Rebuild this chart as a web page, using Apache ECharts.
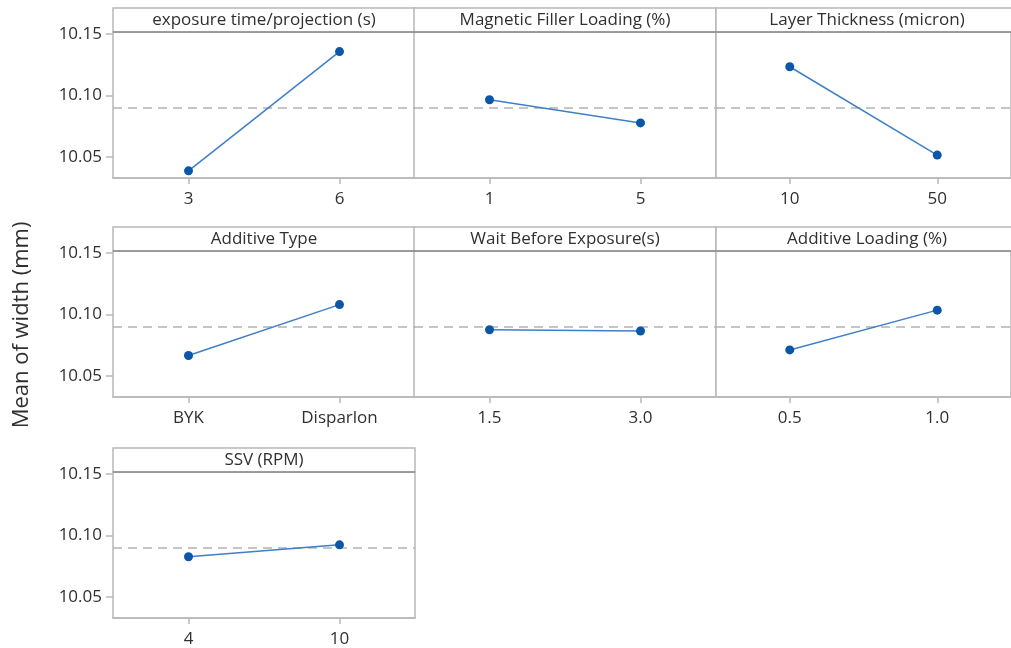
<!DOCTYPE html>
<html>
<head>
<meta charset="utf-8">
<script src="https://cdn.jsdelivr.net/npm/echarts@6/dist/echarts.min.js"></script>
<style>
  html, body { margin: 0; padding: 0; background: #fff; }
  #chart { width: 1011px; height: 648px; }
</style>
</head>
<body>
<div id="chart"></div>
<script>
// Main effects plot: mean of width (mm) for each factor level
const factorNames = [
  'exposure time/projection (s)', 'Magnetic Filler Loading (%)', 'Layer Thickness (micron)',
  'Additive Type', 'Wait Before Exposure(s)', 'Additive Loading (%)',
  'SSV (RPM)'
];
const factorLevels = [
  ['3', '6'], ['1', '5'], ['10', '50'],
  ['BYK', 'Disparlon'], ['1.5', '3.0'], ['0.5', '1.0'],
  ['4', '10']
];
const levelMeans = [
  [10.0388, 10.1356], [10.0965, 10.0777], [10.1233, 10.0516],
  [10.0667, 10.1080], [10.0876, 10.0866], [10.0712, 10.1035],
  [10.0827, 10.0924]
];
const grandMean = 10.0874;
const yTickValues = [10.05, 10.10, 10.15];
const yRange = [10.033, 10.1515];
const yAxisTitle = 'Mean of width (mm)';

// panel layout
const colLeft = [113, 414, 716];
const panelWidth = 302;
const rowTop = [32, 251, 472];
const plotHeight = 146;
const stripHeight = 24;
const FONT = '"Open Sans", "Noto Sans", sans-serif';
const borderColor = '#b8b8b8';
const stripLineColor = '#8e8e8e';
const textColor = '#303030';

const grids = [], xAxes = [], yAxes = [], series = [], graphics = [];

factorNames.forEach((name, i) => {
  const r = Math.floor(i / 3), c = i % 3;
  const left = colLeft[c], top = rowTop[r];
  grids.push({
    left: left, top: top, width: panelWidth, height: plotHeight,
    show: true, borderColor: borderColor, borderWidth: 1.5, backgroundColor: '#fff'
  });
  xAxes.push({
    type: 'category', gridIndex: i, data: factorLevels[i], boundaryGap: true,
    axisLine: { show: true, lineStyle: { color: borderColor, width: 1.5 } },
    axisTick: { show: true, alignWithLabel: true, length: 6, lineStyle: { color: borderColor, width: 1.5 } },
    axisLabel: { color: textColor, fontFamily: FONT, fontSize: 17, margin: 13 },
    splitLine: { show: false }
  });
  const showY = c === 0;
  yAxes.push({
    type: 'value', gridIndex: i, min: yRange[0], max: yRange[1], scale: true,
    axisLine: { show: false },
    axisTick: { show: showY, length: 7, customValues: yTickValues, lineStyle: { color: borderColor, width: 1.5 } },
    axisLabel: {
      show: showY, customValues: yTickValues, color: textColor, fontFamily: FONT, fontSize: 17, margin: 11,
      formatter: v => v.toFixed(2)
    },
    splitLine: { show: false }
  });
  series.push({
    type: 'line', xAxisIndex: i, yAxisIndex: i, data: levelMeans[i],
    symbol: 'circle', symbolSize: 9,
    lineStyle: { color: '#3f7fc8', width: 1.5 },
    itemStyle: { color: '#0b56a6' },
    z: 5,
    markLine: {
      silent: true, symbol: 'none', animation: false,
      label: { show: false },
      lineStyle: { color: '#b3b3b3', type: [9, 6], width: 1.6 },
      data: [{ yAxis: grandMean }]
    }
  });
  // header strip with factor name
  graphics.push({
    type: 'rect', z: 10,
    shape: { x: left, y: top - stripHeight, width: panelWidth, height: stripHeight },
    style: { fill: '#fff', stroke: borderColor, lineWidth: 1.5 }
  });
  graphics.push({
    type: 'line', z: 11,
    shape: { x1: left, y1: top, x2: left + panelWidth, y2: top },
    style: { stroke: stripLineColor, lineWidth: 1.5 }
  });
  graphics.push({
    type: 'text', z: 12,
    x: left + panelWidth / 2, y: top - stripHeight / 2,
    style: {
      text: name, fill: textColor, font: '17px ' + FONT,
      align: 'center', verticalAlign: 'middle'
    }
  });
});

graphics.push({
  type: 'text', z: 12, x: 22, y: 325, rotation: Math.PI / 2,
  style: {
    text: yAxisTitle, fill: textColor, font: '22px ' + FONT,
    align: 'center', verticalAlign: 'middle'
  }
});

const chart = echarts.init(document.getElementById('chart'), null, { renderer: 'canvas' });
chart.setOption({
  animation: false,
  backgroundColor: '#fff',
  grid: grids, xAxis: xAxes, yAxis: yAxes, series: series,
  graphic: graphics
});
</script>
</body>
</html>
